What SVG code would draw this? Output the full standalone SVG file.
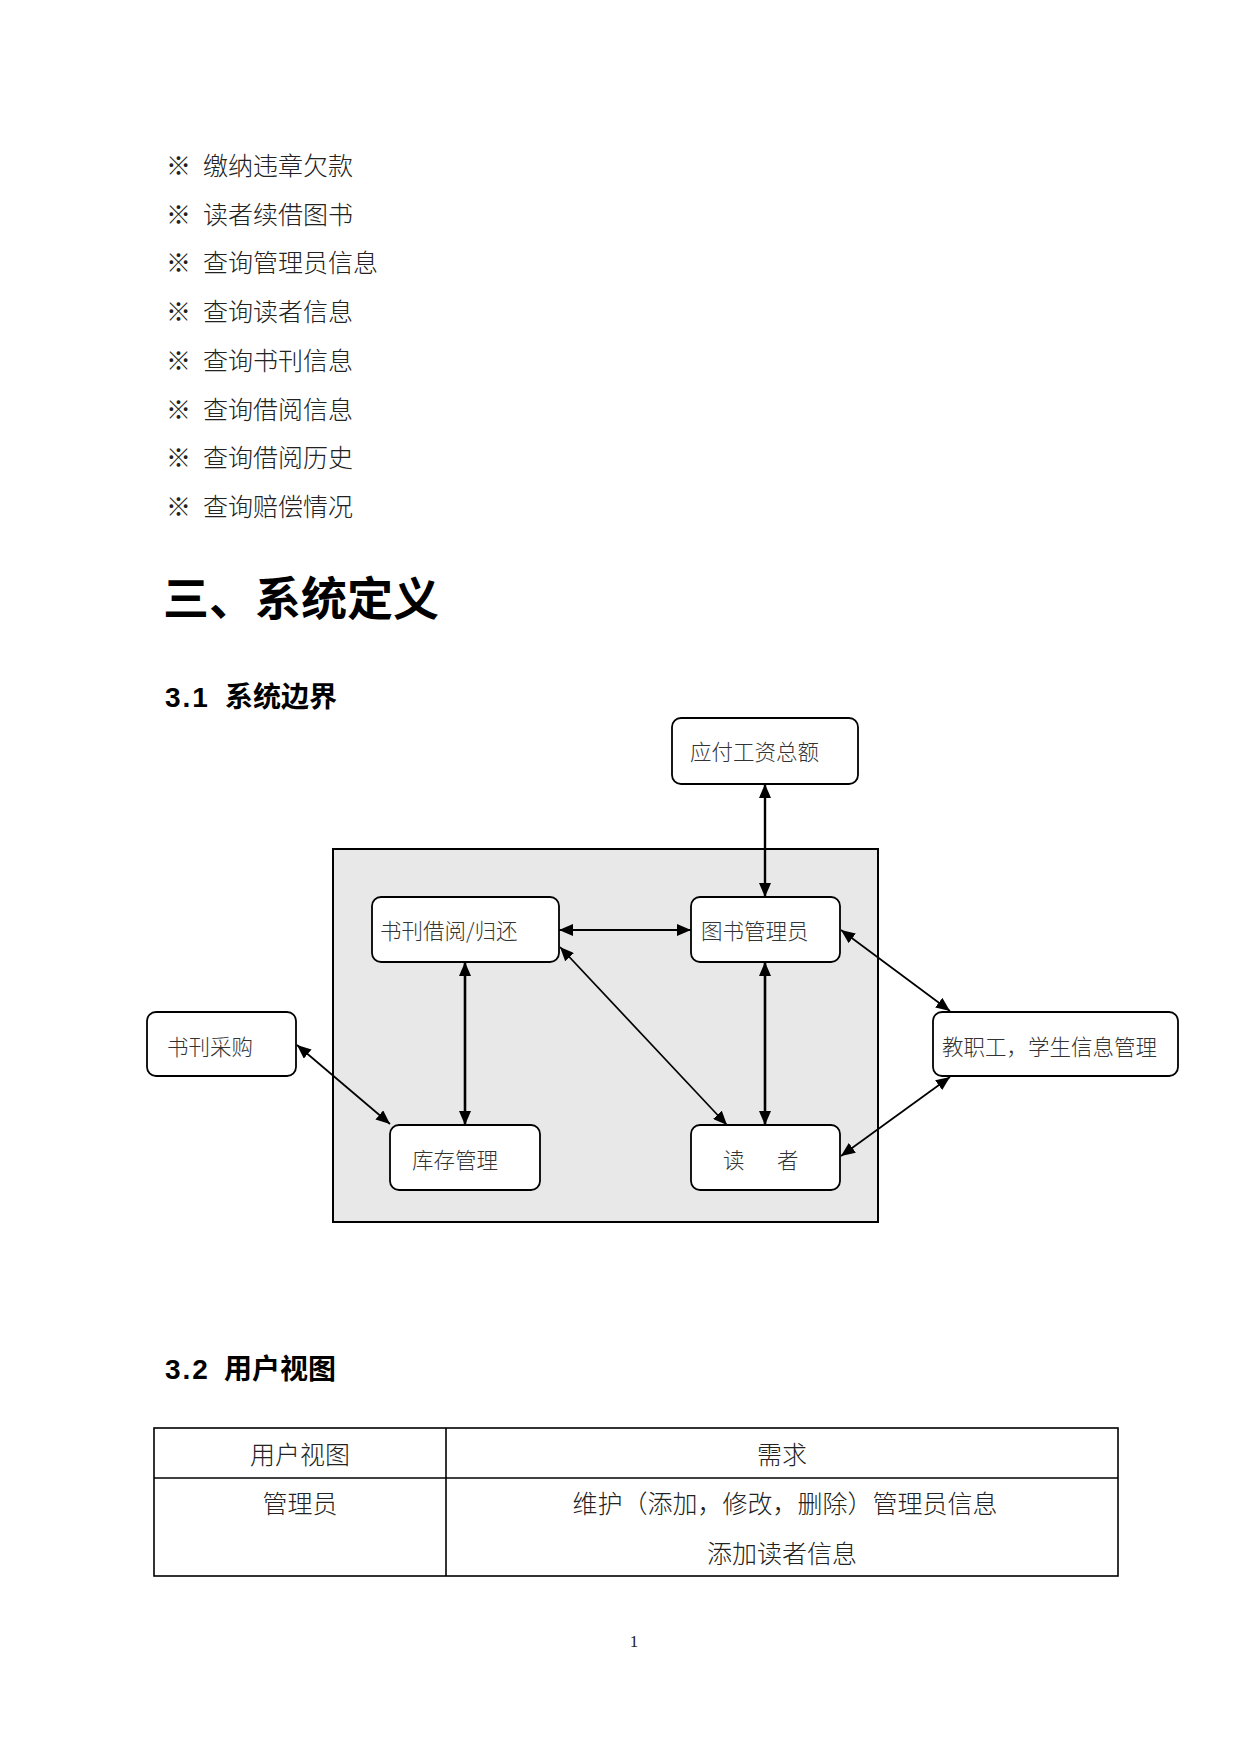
<svg xmlns="http://www.w3.org/2000/svg" width="1241" height="1754" viewBox="0 0 1241 1754">
<style>
.body{font-family:"Noto Sans CJK SC","Liberation Serif",serif;font-size:25px;fill:#222;font-weight:300}
.h1{font-family:"Noto Sans CJK SC","Liberation Sans",sans-serif;font-size:46px;font-weight:bold;fill:#000}
.h2{font-family:"Noto Sans CJK SC","Liberation Sans",sans-serif;font-size:28px;font-weight:bold;fill:#000}
.num{font-family:"Liberation Sans",sans-serif;font-size:28px;font-weight:bold;letter-spacing:2px}
.box{fill:#fff;stroke:#000;stroke-width:1.8}
.lbl{font-family:"Noto Sans CJK SC","Liberation Serif",serif;font-size:21.5px;fill:#333;font-weight:300}
.conn{stroke:#000;fill:none;marker-start:url(#ah);marker-end:url(#ah)}
.tbl{fill:none;stroke:#000;stroke-width:1.6}
.pg{font-family:"Liberation Serif",serif;font-size:17px;fill:#222}
</style>
<defs>
<marker id="ah" markerUnits="userSpaceOnUse" markerWidth="14" markerHeight="12" refX="14" refY="6" orient="auto-start-reverse">
<path d="M0,0 L14,6 L0,12 z" fill="#000"/>
</marker>
</defs>

<g id="bullets" class="body">
<text x="166" y="175">※</text><text x="203" y="175">缴纳违章欠款</text>
<text x="166" y="224">※</text><text x="203" y="224">读者续借图书</text>
<text x="166" y="272">※</text><text x="203" y="272">查询管理员信息</text>
<text x="166" y="321">※</text><text x="203" y="321">查询读者信息</text>
<text x="166" y="370">※</text><text x="203" y="370">查询书刊信息</text>
<text x="166" y="419">※</text><text x="203" y="419">查询借阅信息</text>
<text x="166" y="467">※</text><text x="203" y="467">查询借阅历史</text>
<text x="166" y="516">※</text><text x="203" y="516">查询赔偿情况</text>
</g>

<text class="h1" x="163" y="615">三、系统定义</text>
<text class="h2" x="165" y="707"><tspan class="num">3.1</tspan><tspan x="225">系统边界</tspan></text>

<rect id="boundary" x="333" y="849" width="545" height="373" fill="#e8e8e8" stroke="#000" stroke-width="2"/>

<g id="connectors">
<line class="conn" stroke-width="2.4" x1="765" y1="784" x2="765" y2="897"/>
<line class="conn" stroke-width="2" x1="559" y1="930" x2="691" y2="930"/>
<line class="conn" stroke-width="2.6" x1="465" y1="962" x2="465" y2="1125"/>
<line class="conn" stroke-width="2.6" x1="765" y1="962" x2="765" y2="1125"/>
<line class="conn" stroke-width="1.7" x1="560" y1="947" x2="727" y2="1125"/>
<line class="conn" stroke-width="1.7" x1="841" y1="930" x2="950" y2="1011"/>
<line class="conn" stroke-width="1.7" x1="950" y1="1077" x2="841" y2="1156"/>
<line class="conn" stroke-width="1.7" x1="297" y1="1045" x2="390" y2="1124"/>
</g>

<g id="n-yingfu"><rect class="box" x="672" y="718" width="186" height="66" rx="9"/><text class="lbl" x="690" y="760">应付工资总额</text></g>
<g id="n-jieyue"><rect class="box" x="372" y="897" width="187" height="65" rx="9"/><text class="lbl" x="380" y="939">书刊借阅/归还</text></g>
<g id="n-guanliyuan"><rect class="box" x="691" y="897" width="149" height="65" rx="9"/><text class="lbl" x="701" y="939">图书管理员</text></g>
<g id="n-caigou"><rect class="box" x="147" y="1012" width="149" height="64" rx="9"/><text class="lbl" x="167" y="1055">书刊采购</text></g>
<g id="n-jiaozhigong"><rect class="box" x="933" y="1012" width="245" height="64" rx="9"/><text class="lbl" x="942" y="1055">教职工，学生信息管理</text></g>
<g id="n-kucun"><rect class="box" x="390" y="1125" width="150" height="65" rx="9"/><text class="lbl" x="412" y="1168">库存管理</text></g>
<g id="n-duzhe"><rect class="box" x="691" y="1125" width="149" height="65" rx="9"/><text class="lbl" y="1168"><tspan x="723">读</tspan><tspan x="777">者</tspan></text></g>

<text class="h2" x="165" y="1379"><tspan class="num">3.2</tspan><tspan x="224">用户视图</tspan></text>

<g id="table">
<rect class="tbl" x="154" y="1428" width="964" height="148"/>
<line class="tbl" x1="154" y1="1478" x2="1118" y2="1478"/>
<line class="tbl" x1="446" y1="1428" x2="446" y2="1576"/>
<g class="body" text-anchor="middle">
<text x="300" y="1464">用户视图</text>
<text x="782" y="1464">需求</text>
<text x="300" y="1513">管理员</text>
<text x="785" y="1513">维护（添加，修改，删除）管理员信息</text>
<text x="782" y="1563">添加读者信息</text>
</g>
</g>

<text class="pg" x="634" y="1647" text-anchor="middle">1</text>
</svg>
